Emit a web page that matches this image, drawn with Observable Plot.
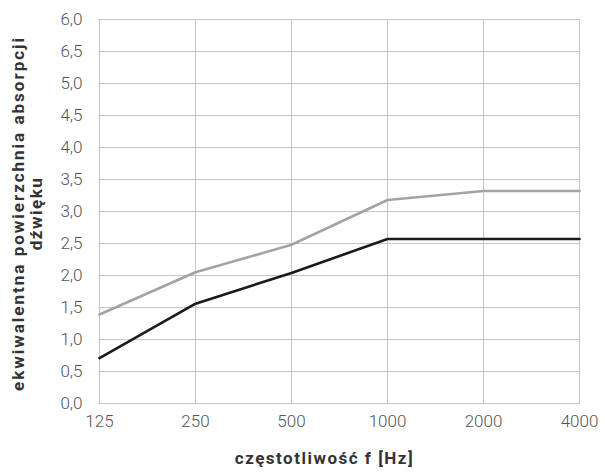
<!DOCTYPE html>
<html>
<head>
<meta charset="utf-8">
<script src="https://cdn.jsdelivr.net/npm/d3@7"></script>
<script src="https://cdn.jsdelivr.net/npm/@observablehq/plot@0.6"></script>
<style>
  html, body { margin: 0; padding: 0; background: #fff; }
  #chart svg { display: block; }
</style>
</head>
<body>
<div id="chart"></div>
<script>
const frequencies = ["125", "250", "500", "1000", "2000", "4000"];
const grayValues = [1.39, 2.05, 2.48, 3.18, 3.32, 3.32];
const blackValues = [0.71, 1.56, 2.04, 2.57, 2.57, 2.57];
const yTicks = [0, 0.5, 1, 1.5, 2, 2.5, 3, 3.5, 4, 4.5, 5, 5.5, 6];
const yTickLabels = ["0,0", "0,5", "1,0", "1,5", "2,0", "2,5", "3,0", "3,5", "4,0", "4,5", "5,0", "6,5", "6,0"];
const xTitle = "częstotliwość f [Hz]";
const yTitleLines = ["ekwiwalentna powierzchnia absorpcji", "dźwięku"];

const grayData = frequencies.map((f, i) => ({f, v: grayValues[i]}));
const blackData = frequencies.map((f, i) => ({f, v: blackValues[i]}));

const chart = Plot.plot({
  width: 605,
  height: 476,
  marginLeft: 98,
  marginRight: 25,
  marginTop: 19,
  marginBottom: 73,
  style: {fontFamily: "Roboto, sans-serif", fontSize: "16px", background: "#fff"},
  x: {type: "point", domain: frequencies, padding: 0, label: null},
  y: {domain: [0, 6], label: null},
  marks: [
    Plot.gridX(frequencies, {stroke: "#c6c6c6", strokeOpacity: 1, strokeWidth: 1}),
    Plot.gridY(yTicks, {stroke: "#c6c6c6", strokeOpacity: 1, strokeWidth: 1}),
    Plot.axisX({tickSize: 0, tickPadding: 11, fill: "#555", fontWeight: 300, fontSize: 17, label: null}),
    Plot.axisY({ticks: yTicks, tickSize: 0, tickPadding: 16, fill: "#555", fontWeight: 300, fontSize: 17,
      tickFormat: (d) => yTickLabels[yTicks.indexOf(d)], label: null}),
    Plot.lineY(grayData, {x: "f", y: "v", stroke: "#a3a3a3", strokeWidth: 2.6}),
    Plot.lineY(blackData, {x: "f", y: "v", stroke: "#1a1a1a", strokeWidth: 2.6}),
    Plot.text([xTitle], {frameAnchor: "bottom", dy: 60, dx: -15, text: (d) => d, textAnchor: "middle",
      fontWeight: "bold", fontSize: 17, fill: "#333"}),
    Plot.text([yTitleLines[0]], {frameAnchor: "left", dx: -80, dy: 2, rotate: -90, text: (d) => d, textAnchor: "middle",
      fontWeight: "bold", fontSize: 17, fill: "#333"}),
    Plot.text([yTitleLines[1]], {frameAnchor: "left", dx: -62, dy: 2, rotate: -90, text: (d) => d, textAnchor: "middle",
      fontWeight: "bold", fontSize: 17, fill: "#333"})
  ]
});
const titles = chart.querySelectorAll('g[aria-label="text"] text');
titles.forEach((t) => t.setAttribute("letter-spacing", "1.5"));
titles[1].setAttribute("letter-spacing", "2");
document.getElementById("chart").appendChild(chart);
</script>
</body>
</html>
